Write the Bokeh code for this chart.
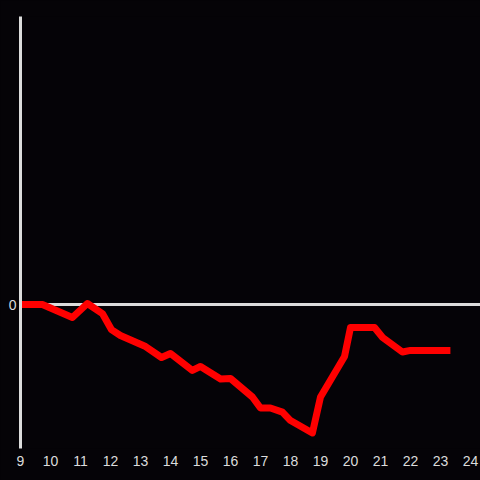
from bokeh.plotting import figure
from bokeh.models import Range1d, FixedTicker, Span
from bokeh.embed import file_html
from bokeh.resources import INLINE

hours = [9.0, 9.73, 10.73, 11.23, 11.73, 12.03, 12.33, 13.17, 13.7, 14.0, 14.73,
         15.0, 15.67, 16.0, 16.73, 17.0, 17.33, 17.73, 18.0, 18.73, 19.0,
         19.8, 20.0, 20.8, 21.07, 21.73, 22.0, 23.33]
values = [0.0, 0.0, -0.09, 0.007, -0.063, -0.174, -0.215, -0.292, -0.368, -0.34, -0.458,
          -0.43, -0.517, -0.514, -0.642, -0.719, -0.719, -0.747, -0.806, -0.892, -0.642,
          -0.361, -0.16, -0.16, -0.229, -0.33, -0.319, -0.319]
x_ticks = list(range(9, 25))
y_ticks = [0]

BG = "#050307"
GREY = "#dcdcdc"

p = figure(width=480, height=480, output_backend="svg", toolbar_location=None,
           x_range=Range1d(9, 24.333), y_range=Range1d(-1, 2),
           min_border_left=20, min_border_right=0, min_border_top=16, min_border_bottom=32,
           background_fill_color=BG, border_fill_color=BG, outline_line_color=None)
p.grid.visible = False

p.xaxis.ticker = FixedTicker(ticks=x_ticks)
p.xaxis.axis_line_color = None
p.xaxis.major_tick_line_color = None
p.xaxis.minor_tick_line_color = None
p.xaxis.major_label_text_color = GREY
p.xaxis.major_label_text_font = "Liberation Sans"
p.xaxis.major_label_text_font_size = "14px"
p.xaxis.major_label_standoff = 1

p.yaxis.ticker = FixedTicker(ticks=y_ticks)
p.yaxis.axis_line_color = GREY
p.yaxis.axis_line_width = 3
p.yaxis.major_tick_line_color = None
p.yaxis.minor_tick_line_color = None
p.yaxis.major_label_text_color = GREY
p.yaxis.major_label_text_font = "Liberation Sans"
p.yaxis.major_label_text_font_size = "14px"
p.yaxis.major_label_standoff = -2

p.add_layout(Span(location=0, dimension="width", line_color=GREY, line_width=3, level="underlay"))

p.line(hours, values, line_color="#ff0000", line_width=7, line_join="round")

html = file_html(p, INLINE)
html = html.replace("<head>", "<head><style>html,body{background:%s;}</style>" % BG, 1)
open("out.html", "w").write(html)
